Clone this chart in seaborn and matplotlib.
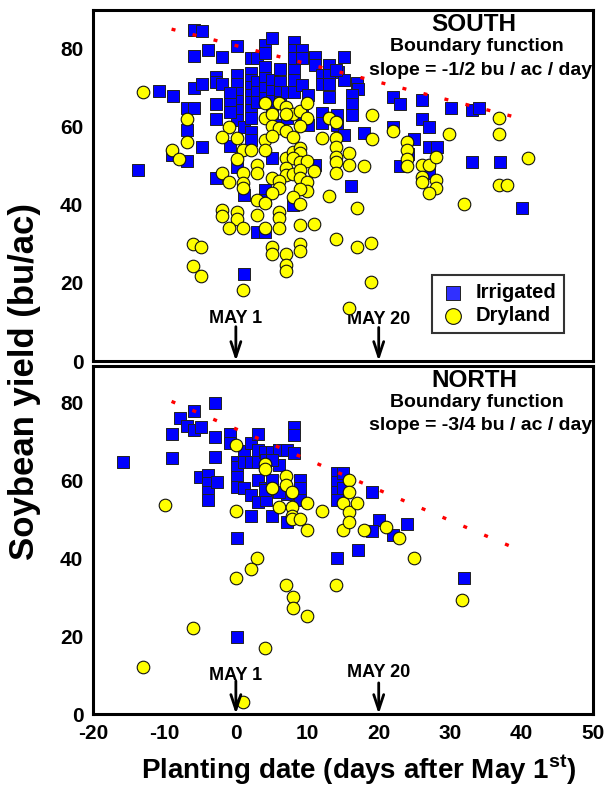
import matplotlib
matplotlib.use("Agg")
import matplotlib.pyplot as plt
import seaborn as sns
import pandas as pd

# ---------------- data ----------------
south_irr_day = [-5.9,-4.8,-5.9,-3.9,-1.9,0.1,2.1,2.9,4.1,4.1,5.1,8.1,8.1,9.2,8.1,9.2,11.1,11.1,13.1,15.1,14.3,12.1,13.1,12.1,13.1,13.1,15.1,16.9,17.1,16.2,16.2,16.2,22.0,23.0,26.0,30.1,33.0,34.0,26.0,27.0,22.0,18.0,25.0,27.0,28.1,24.1,23.0,27.1,33.0,37.0,16.1,40.0,-10.8,-8.8,-5.9,-4.8,-6.9,-5.9,-2.8,-2.8,-1.9,-2.8,-2.8,-6.8,-4.8,-9.0,-6.8,-13.7,-2.8,0.1,0.1,0.1,0.1,0.1,0.1,-0.8,-0.8,-0.8,-0.8,1.1,2.1,2.1,2.1,2.1,2.1,2.1,2.1,2.1,2.1,3.0,3.0,3.0,4.1,4.1,4.1,4.1,5.1,5.1,5.1,6.2,6.2,6.2,6.2,7.2,8.1,8.1,8.1,9.2,10.1,12.1,12.1,14.1,14.1,15.1,5.1,11.1,4.1,4.1,8.0,3.0,4.1,1.1,1.1,0.1,6.2,7.2,9.2,10.1,5.1,14.0]
south_irr_yield = [84.8,84.7,78.3,79.8,77.9,80.8,77.8,77.8,81.0,79.0,82.9,81.8,79.7,79.7,77.6,77.6,77.9,75.8,75.8,77.9,74.0,73.3,73.3,70.9,70.9,67.8,72.1,71.2,69.7,68.2,65.8,63.1,67.8,65.9,66.9,64.9,64.4,64.9,62.0,59.9,60.0,58.5,56.8,54.9,54.9,53.1,50.0,48.1,50.9,50.9,45.0,39.3,69.2,67.9,69.9,70.9,64.9,64.9,72.9,71.6,70.9,65.9,62.0,59.2,54.9,52.8,51.4,48.9,46.9,73.3,70.9,68.6,66.7,64.4,61.8,68.6,65.9,63.8,55.1,60.0,73.8,72.1,70.3,68.2,66.3,64.4,62.2,58.8,56.7,71.6,69.1,66.5,75.5,72.5,69.9,67.4,72.1,69.2,66.7,74.9,71.6,69.1,66.5,69.1,74.6,72.1,69.1,70.8,68.2,63.5,60.9,63.1,60.5,57.9,52.0,50.3,43.8,41.3,40.0,33.2,33.2,42.6,22.4,49.8,60.5,62.2,63.1,60.5,63.9,74.6]

south_dry_day = [-13.0,-6.9,-6.9,-8.9,-7.9,-0.9,-1.9,0.1,1.0,2.1,0.1,2.9,2.9,-1.9,-0.9,1.0,1.0,1.0,2.9,2.9,-1.9,-1.9,0.1,0.1,-0.9,1.0,-6.0,-4.9,-6.0,-4.9,1.0,4.1,6.1,7.0,8.0,9.0,10.0,4.1,5.0,7.0,10.0,5.0,6.1,7.0,9.0,8.0,4.1,5.0,4.1,13.0,14.0,12.0,14.0,14.0,14.0,14.0,14.0,15.9,15.9,7.0,8.0,9.0,9.0,8.0,9.0,10.0,11.0,7.0,7.0,8.0,9.0,9.0,5.0,6.1,6.1,10.0,10.0,9.0,8.0,9.0,5.0,13.0,4.1,6.1,6.1,6.1,4.1,9.0,11.0,5.0,5.0,7.0,9.0,9.0,7.0,7.0,14.0,16.9,16.9,18.9,18.9,15.9,19.0,22.0,19.0,24.0,24.0,29.9,36.9,36.9,40.9,17.9,24.0,24.0,26.0,27.0,28.0,26.0,26.0,28.0,28.0,27.0,36.9,37.9,31.9]
south_dry_yield = [69.1,62.0,56.2,54.1,51.8,60.1,57.4,57.2,54.1,54.1,51.7,50.3,48.1,48.3,46.0,48.2,45.6,44.3,41.3,37.4,38.6,37.3,38.2,36.3,34.2,34.0,29.9,29.2,24.4,21.7,18.3,66.1,66.1,65.1,63.3,64.2,66.1,62.2,63.3,63.3,62.2,60.3,59.7,59.1,60.3,57.5,56.7,57.8,54.1,62.2,61.2,57.1,57.1,54.9,52.4,51.1,48.1,53.3,50.3,52.1,53.5,54.7,53.3,52.0,51.1,51.3,48.7,49.4,47.7,47.9,49.0,47.0,47.0,46.2,44.3,45.8,43.6,44.1,42.1,40.2,43.0,42.4,40.4,38.3,36.6,34.2,34.2,34.9,35.2,29.3,27.4,27.5,29.9,28.2,24.6,23.1,31.2,39.2,29.3,30.3,20.3,13.5,63.1,59.1,56.8,56.1,54.1,58.1,62.2,58.1,52.1,50.1,51.7,49.9,50.2,50.2,52.4,47.3,46.0,46.3,44.3,43.1,45.2,45.2,40.2]

north_irr_day = [-15.8,-8.9,-8.9,-7.8,-6.9,-5.9,-4.9,-5.9,-2.9,-2.9,-2.9,-5.0,-3.9,-3.9,-3.9,-3.9,-2.7,-0.8,-0.8,0.1,0.1,0.1,0.1,1.1,1.1,1.1,2.1,3.1,2.1,3.1,3.1,2.1,3.1,3.1,4.1,5.1,6.1,7.1,8.1,8.1,8.1,6.1,4.1,4.2,2.1,5.1,7.1,9.0,9.0,9.0,7.1,0.1,14.1,14.1,14.1,14.1,15.0,14.1,15.0,19.0,20.0,19.0,22.0,24.0,17.1,0.1,5.1,4.1,6.1,4.2,5.1,32.0]
north_irr_yield = [64.9,71.9,65.9,76.0,74.0,73.0,73.9,78.0,79.9,71.3,66.1,61.0,61.4,59.3,57.1,55.0,59.7,71.9,69.8,64.9,63.6,61.0,58.4,67.7,64.9,58.0,69.8,72.0,64.9,64.9,60.2,56.3,54.6,67.9,67.3,67.4,67.9,67.9,73.9,71.7,67.0,64.0,58.0,55.0,50.9,50.9,49.4,60.2,58.0,55.0,56.7,45.3,61.9,59.7,57.1,55.0,61.9,40.0,58.0,57.0,50.0,47.0,46.0,48.9,42.2,19.9,60.2,57.6,57.1,65.3,65.3,35.0]

north_dry_day = [-9.9,0.0,0.0,4.1,4.1,5.0,7.0,7.0,7.9,6.0,7.9,7.9,7.9,9.0,10.0,10.0,12.0,15.0,15.0,15.9,15.9,15.9,15.9,17.0,18.0,21.0,22.9,24.9,3.0,2.1,0.0,-6.0,-13.0,4.1,1.0,7.0,8.0,8.0,10.0,14.0,31.7]
north_dry_yield = [53.7,69.2,52.2,64.2,63.0,58.2,61.2,59.0,57.1,53.3,53.3,51.0,50.1,50.1,54.2,47.3,52.2,54.2,47.3,60.2,57.1,52.0,49.4,54.2,47.3,48.2,45.2,40.2,40.2,37.2,35.1,22.2,12.2,17.1,3.2,33.2,30.2,27.2,25.2,33.2,29.3]

# boundary function end points (day, yield)
south_bound_day = [-9.0, 39.0]
south_bound_yield = [85.1, 62.6]
north_bound_day = [-9.0, 39.0]
north_bound_yield = [80.4, 42.7]

x_ticks = [-20, -10, 0, 10, 20, 30, 40, 50]
y_ticks = [0, 20, 40, 60, 80]
series_names = ["Irrigated", "Dryland"]

# ---------------- style ----------------
sns.set_theme(style="white")
FONT = ["Liberation Sans", "DejaVu Sans"]
plt.rcParams["font.family"] = FONT
plt.rcParams["font.weight"] = "bold"
plt.rcParams["text.color"] = "black"
plt.rcParams["axes.labelcolor"] = "black"
plt.rcParams["xtick.color"] = "black"
plt.rcParams["ytick.color"] = "black"
plt.rcParams["axes.unicode_minus"] = False
plt.rcParams["mathtext.fontset"] = "custom"
plt.rcParams["mathtext.rm"] = "Liberation Sans:bold"
plt.rcParams["mathtext.bf"] = "Liberation Sans:bold"

BLUE = "#0000FF"
YELLOW = "#FFFF00"
RED = "#FF0000"

fig = plt.figure(figsize=(6.08, 7.99), dpi=100)
ax_s = fig.add_axes([93/608, 1-361/799, 500/608, 351/799])
ax_n = fig.add_axes([93/608, 1-714/799, 500/608, 348/799])


def panel(ax, irr_d, irr_y, dry_d, dry_y, b_d, b_y, dash_off, ytop):
    d_irr = pd.DataFrame({"day": irr_d, "yield": irr_y})
    d_dry = pd.DataFrame({"day": dry_d, "yield": dry_y})
    sns.scatterplot(data=d_irr, x="day", y="yield", ax=ax, marker="s", s=64,
                    color=BLUE, edgecolor="#222222", linewidth=0.7, zorder=3,
                    label=series_names[0])
    sns.scatterplot(data=d_dry, x="day", y="yield", ax=ax, marker="o", s=82,
                    color=YELLOW, edgecolor="#111111", linewidth=0.8, zorder=4,
                    label=series_names[1])
    ax.plot(b_d, b_y, color=RED, lw=2.4, linestyle=(0, (1.2, dash_off)),
            zorder=5)
    ax.set_xlim(-20, 50)
    ax.set_ylim(0, ytop)
    ax.set_xticks(x_ticks)
    ax.set_yticks(y_ticks)
    ax.set_xlabel("")
    ax.set_ylabel("")
    for sp in ax.spines.values():
        sp.set_linewidth(2.2)
        sp.set_color("black")
    ax.tick_params(axis="both", which="major", direction="out", length=4,
                   width=1, color="black", labelsize=15, pad=3)
    for lab in ax.get_yticklabels() + ax.get_xticklabels():
        lab.set_fontweight("bold")


panel(ax_s, south_irr_day, south_irr_yield, south_dry_day, south_dry_yield,
      south_bound_day, south_bound_yield, 5.3, 90)
panel(ax_n, north_irr_day, north_irr_yield, north_dry_day, north_dry_yield,
      north_bound_day, north_bound_yield, 5.6, 89.5)

ax_s.tick_params(axis="x", labelbottom=False)
ax_n.legend_.remove()

leg = ax_s.legend(loc="lower left", bbox_to_anchor=(0.678, 0.08),
                  frameon=True, fancybox=False, prop={"size": 14.5, "weight": "bold"},
                  handletextpad=0.45, borderpad=0.4, labelspacing=0.2,
                  handlelength=1.3, borderaxespad=0, markerscale=1.25)
leg.get_frame().set_edgecolor("black")
leg.get_frame().set_linewidth(1.5)
leg.legend_handles[0].set_facecolor("#3030FF")

# titles
for ax, name, slope in [(ax_s, "SOUTH", "-1/2"), (ax_n, "NORTH", "-3/4")]:
    ax.text(0.762, 0.958, name, transform=ax.transAxes, ha="center", va="center",
            fontsize=17.5, fontweight="bold")
    ax.text(0.768, 0.896, "Boundary function", transform=ax.transAxes,
            ha="center", va="center", fontsize=14, fontweight="bold")
    ax.text(0.776, 0.829, f"slope = {slope} bu / ac / day", transform=ax.transAxes,
            ha="center", va="center", fontsize=14, fontweight="bold")

# arrows and date labels
arrow_kw = dict(arrowstyle="->,head_length=0.9,head_width=0.3", lw=2, color="black",
                shrinkA=0, shrinkB=0)
for ax, (t1y, a1y, t2y, a2y) in [(ax_s, (9.8, 8.8, 9.5, 8.6)),
                                 (ax_n, (8.7, 8.5, 9.5, 8.0))]:
    ax.annotate("", xy=(0, 0), xytext=(0, a1y), arrowprops=arrow_kw, zorder=6)
    ax.annotate("", xy=(20, 0), xytext=(20, a2y), arrowprops=arrow_kw, zorder=6)
    ax.text(0, t1y, "MAY 1", ha="center", va="baseline", fontsize=13, fontweight="bold")
    ax.text(20, t2y, "MAY 20", ha="center", va="baseline", fontsize=13, fontweight="bold")

fig.text(0.040, 0.523, "Soybean yield (bu/ac)", rotation=90, ha="center", va="center",
         fontsize=25, fontweight="bold")
fig.text(0.59, 0.036, r"Planting date (days after May 1$^{\mathbf{st}}$)", ha="center",
         va="center", fontsize=20, fontweight="bold")

fig.savefig("out.png", dpi=100)
